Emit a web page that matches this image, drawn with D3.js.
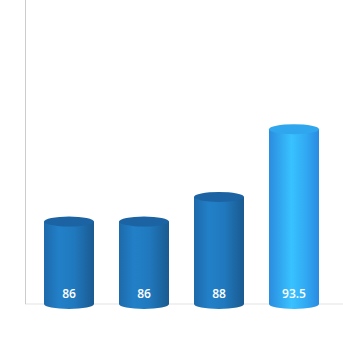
<!DOCTYPE html>
<html>
<head>
<meta charset="utf-8">
<script src="https://cdn.jsdelivr.net/npm/d3@7"></script>
<style>
  body { margin: 0; background: #fff; }
  svg { display: block; }
  .label { font-family: 'Open Sans', sans-serif; font-size: 12px; font-weight: 600; fill: #fff; }
</style>
</head>
<body>
<svg width="343" height="337"></svg>
<script>
const categories = ['A', 'B', 'C', 'D'];
const values = [86, 86, 88, 93.5];
const highlight = [false, false, false, true];

const svg = d3.select('svg');
const width = +svg.attr('width');
const height = +svg.attr('height');

const margin = {top: 0, right: 0, bottom: 33, left: 25};
const innerHeight = height - margin.top - margin.bottom;

const xScale = d3.scaleBand()
    .domain(categories)
    .range([6.5, 306.5])
    .paddingInner(1 / 3)
    .paddingOuter(1 / 6);

const yScale = d3.scaleLinear()
    .domain([79.3, 104])
    .range([innerHeight, 0]);

const defs = svg.append('defs');
const grad = (id, stops) => {
    const g = defs.append('linearGradient').attr('id', id)
        .attr('x1', 0).attr('x2', 1).attr('y1', 0).attr('y2', 0);
    stops.forEach(([o, c]) => g.append('stop').attr('offset', o).attr('stop-color', c));
};
grad('blue', [[0, '#1d6aab'], [0.3, '#2280c8'], [0.6, '#2079be'], [1, '#1a5a90']]);
grad('cyan', [[0, '#2a8ce0'], [0.45, '#38c2ff'], [0.75, '#31a8f2'], [1, '#2a8ae0']]);

const g = svg.append('g')
    .attr('transform', `translate(${margin.left},${margin.top})`);

// axes lines
g.append('line')
    .attr('x1', 0).attr('x2', width - margin.left)
    .attr('y1', innerHeight).attr('y2', innerHeight)
    .attr('stroke', '#e3e3e3');
g.append('line')
    .attr('x1', 0.5).attr('x2', 0.5)
    .attr('y1', 0).attr('y2', innerHeight)
    .attr('stroke', '#cccccc');

const ry = 5;
const bars = g.selectAll('g.bar').data(values)
    .enter().append('g').attr('class', 'bar');

bars.each(function (d, i) {
    const sel = d3.select(this);
    const x = xScale(categories[i]);
    const w = xScale.bandwidth();
    const cx = x + w / 2;
    const top = yScale(d);
    const fill = highlight[i] ? 'url(#cyan)' : 'url(#blue)';
    sel.append('ellipse')
        .attr('cx', cx).attr('cy', innerHeight)
        .attr('rx', w / 2).attr('ry', ry)
        .attr('fill', fill);
    sel.append('rect')
        .attr('x', x).attr('y', top)
        .attr('width', w).attr('height', innerHeight - top)
        .attr('fill', fill);
    sel.append('ellipse')
        .attr('cx', cx).attr('cy', top)
        .attr('rx', w / 2).attr('ry', ry)
        .attr('fill', highlight[i] ? '#2fa6ee' : '#1b63a2');
    sel.append('text')
        .attr('class', 'label')
        .attr('x', cx).attr('y', innerHeight - 6)
        .attr('text-anchor', 'middle')
        .text(d);
});
</script>
</body>
</html>
